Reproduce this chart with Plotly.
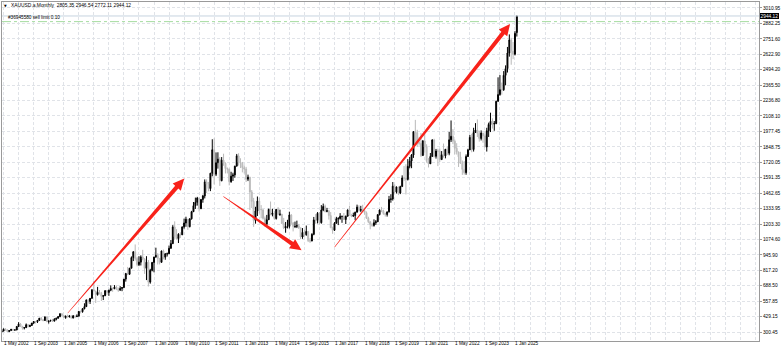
import plotly.graph_objects as go

# ---------------- data (monthly XAUUSD bars, Apr 2002 .. Feb 2025) ----------------
opens = [
    302.0, 308.4, 326.6, 318.5, 304.7, 312.8, 323.7, 316.9, 317.7,
    347.2, 367.5, 347.5, 334.9, 336.8, 361.4, 346.0, 354.8, 375.6, 388.0, 386.3, 397.6,
    416.3, 402.2, 396.8, 427.6, 387.5, 393.4, 395.8, 391.4, 407.3, 415.7, 428.9, 453.4,
    438.0, 422.2, 434.5, 427.9, 435.7, 417.2, 435.7, 429.1, 433.3, 473.3, 470.8, 495.7,
    513.0, 568.8, 556.0, 582.0, 654.5, 643.0, 613.5, 632.5, 623.5, 599.3, 603.8, 646.7,
    632.0, 650.5, 665.3, 661.8, 677.0, 659.1, 650.5, 665.5, 672.0, 743.0, 789.5, 783.5,
    834.0, 923.3, 971.5, 916.0, 864.0, 885.0, 928.3, 912.5, 833.0, 884.5, 718.0, 816.2,
    882.1, 927.3, 942.5, 916.5, 883.3, 978.8, 926.4, 954.5, 955.3, 1000.3, 1040.0, 1179.3,
    1097.0, 1081.7, 1118.3, 1113.3, 1180.2, 1212.5, 1244.0, 1181.7, 1247.3, 1307.0, 1357.3, 1385.0,
    1421.0, 1332.1, 1409.3, 1439.0, 1556.0, 1536.5, 1500.4, 1628.6, 1825.0, 1620.0, 1716.8, 1746.4,
    1566.8, 1737.8, 1711.3, 1668.0, 1663.4, 1558.0, 1604.2, 1614.8, 1687.9, 1773.9, 1719.1, 1713.2,
    1675.6, 1663.5, 1578.7, 1595.7, 1472.1, 1393.1, 1234.6, 1313.1, 1395.8, 1327.0, 1323.8, 1250.7,
    1201.6, 1239.8, 1326.6, 1283.8, 1295.6, 1250.0, 1326.4, 1282.3, 1286.4, 1208.3, 1171.7, 1182.9,
    1184.1, 1279.6, 1212.9, 1183.1, 1184.0, 1190.4, 1172.2, 1095.3, 1133.4, 1114.5, 1142.2, 1065.3,
    1061.1, 1117.3, 1238.3, 1234.8, 1293.4, 1214.9, 1320.6, 1350.9, 1308.7, 1315.6, 1274.4, 1172.3,
    1151.8, 1210.3, 1248.8, 1249.1, 1268.4, 1268.6, 1241.6, 1269.1, 1321.4, 1279.8, 1270.6, 1274.8,
    1302.5, 1345.1, 1318.0, 1324.6, 1315.2, 1298.8, 1252.6, 1223.7, 1201.4, 1192.2, 1214.7, 1222.4,
    1282.5, 1321.2, 1313.3, 1292.3, 1283.7, 1305.6, 1409.6, 1413.6, 1520.3, 1472.5, 1513.3, 1463.9,
    1517.1, 1589.2, 1585.7, 1577.2, 1686.3, 1730.3, 1780.9, 1975.9, 1968.1, 1886.9, 1879.0, 1776.5,
    1898.4, 1847.7, 1734.0, 1707.7, 1769.1, 1906.9, 1770.1, 1814.2, 1813.6, 1742.8, 1783.4, 1774.5,
    1829.2, 1796.3, 1908.6, 1937.4, 1896.9, 1837.3, 1807.3, 1765.9, 1711.0, 1660.6, 1633.6, 1768.5,
    1824.0, 1928.4, 1826.9, 1969.3, 1990.0, 1962.7, 1919.4, 1965.1, 1940.2, 1848.6, 1983.9, 2036.4,
    2062.6, 2039.5, 2044.2, 2229.9, 2286.3, 2327.3, 2326.8, 2447.6, 2503.4, 2634.6, 2743.9, 2650.0,
    2624.3, 2805.35,
]
highs = [
    312, 328, 331, 322, 315, 326, 324, 323, 349,
    383, 375, 352, 341, 372, 365, 362, 376, 392, 391, 398, 417,
    427, 410, 428, 429, 395, 404, 410, 416, 420, 434, 456, 456,
    428, 437, 446, 438, 436, 443, 432, 448, 474, 480, 500, 541,
    572, 574, 584, 655, 730, 645, 678, 652, 636, 610, 649, 643,
    654, 691, 672, 693, 690, 672, 684, 676, 744, 795, 845, 837,
    933, 976, 1033, 929, 935, 942, 988, 916, 935, 903, 829, 887,
    930, 1006, 960, 917, 981, 990, 960, 965, 1024, 1070, 1195, 1226,
    1161, 1127, 1135, 1180, 1249, 1265, 1213, 1252, 1314, 1388, 1425, 1431,
    1424, 1411, 1448, 1577, 1578, 1556, 1632, 1913, 1921, 1803, 1804, 1764,
    1764, 1792, 1720, 1677, 1667, 1641, 1633, 1691, 1790, 1796, 1754, 1723,
    1694, 1682, 1617, 1598, 1488, 1423, 1348, 1434, 1425, 1362, 1322, 1267,
    1280, 1332, 1392, 1331, 1315, 1326, 1345, 1324, 1287, 1255, 1221, 1239,
    1307, 1287, 1220, 1224, 1232, 1205, 1171, 1170, 1156, 1191, 1142, 1088,
    1127, 1263, 1287, 1304, 1304, 1362, 1375, 1366, 1339, 1318, 1304, 1182,
    1220, 1264, 1261, 1295, 1270, 1296, 1274, 1326, 1357, 1289, 1299, 1307,
    1366, 1361, 1356, 1365, 1326, 1309, 1265, 1215, 1214, 1243, 1237, 1284,
    1326, 1347, 1324, 1298, 1306, 1439, 1453, 1555, 1535, 1518, 1516, 1524,
    1611, 1689, 1704, 1747, 1765, 1789, 1981, 2075, 1992, 1933, 1965, 1906,
    1959, 1871, 1755, 1798, 1913, 1917, 1832, 1834, 1834, 1814, 1877, 1831,
    1853, 1974, 2070, 1998, 1910, 1880, 1784, 1808, 1735, 1730, 1786, 1833,
    1949, 1959, 2009, 2048, 2079, 1984, 1987, 1966, 1953, 2009, 2052, 2135,
    2088, 2065, 2236, 2431, 2450, 2387, 2483, 2531, 2685, 2790, 2761, 2726,
    2817, 2946.54,
]
lows = [
    300, 306, 314, 301, 300, 312, 310, 313, 316,
    344, 344, 320, 322, 336, 340, 342, 353, 368, 372, 376, 396,
    399, 390, 393, 383, 371, 389, 387, 391, 398, 413, 425, 431,
    418, 411, 424, 422, 414, 415, 417, 429, 432, 456, 462, 490,
    525, 539, 535, 580, 642, 543, 605, 614, 560, 568, 603, 612,
    603, 642, 637, 662, 651, 636, 647, 642, 671, 722, 776, 779,
    834, 894, 898, 850, 852, 857, 900, 787, 735, 681, 705, 808,
    800, 922, 865, 866, 882, 908, 905, 932, 954, 1002, 1036, 1075,
    1074, 1045, 1087, 1115, 1165, 1181, 1155, 1176, 1241, 1316, 1330, 1358,
    1308, 1329, 1382, 1418, 1462, 1478, 1479, 1603, 1535, 1605, 1667, 1523,
    1561, 1691, 1627, 1627, 1527, 1549, 1564, 1591, 1686, 1693, 1672, 1636,
    1626, 1555, 1563, 1321, 1338, 1180, 1207, 1271, 1292, 1252, 1241, 1182,
    1202, 1238, 1277, 1268, 1240, 1241, 1281, 1272, 1207, 1161, 1131, 1167,
    1167, 1197, 1142, 1170, 1170, 1162, 1077, 1080, 1098, 1106, 1053, 1046,
    1061, 1110, 1206, 1209, 1200, 1207, 1311, 1301, 1302, 1241, 1171, 1122,
    1146, 1208, 1195, 1240, 1214, 1237, 1204, 1267, 1275, 1261, 1263, 1236,
    1302, 1307, 1303, 1310, 1282, 1246, 1211, 1160, 1180, 1182, 1196, 1221,
    1276, 1303, 1281, 1266, 1266, 1300, 1382, 1400, 1459, 1459, 1446, 1454,
    1517, 1563, 1451, 1568, 1670, 1671, 1757, 1863, 1849, 1860, 1765, 1776,
    1802, 1717, 1677, 1720, 1766, 1761, 1751, 1688, 1722, 1746, 1759, 1753,
    1781, 1779, 1890, 1872, 1787, 1785, 1681, 1709, 1615, 1617, 1616, 1765,
    1823, 1804, 1810, 1969, 1932, 1893, 1903, 1884, 1846, 1810, 1932, 1973,
    2002, 1984, 2039, 2229, 2277, 2286, 2318, 2364, 2471, 2604, 2536, 2583,
    2614, 2772.11,
]
closes = [
    308.4, 326.6, 318.5, 304.7, 312.8, 323.7, 316.9, 317.7, 347.2,
    367.5, 347.5, 334.9, 336.8, 361.4, 346.0, 354.8, 375.6, 388.0, 386.3, 397.6, 416.3,
    402.2, 396.8, 427.6, 387.5, 393.4, 395.8, 391.4, 407.3, 415.7, 428.9, 453.4, 438.0,
    422.2, 434.5, 427.9, 435.7, 417.2, 435.7, 429.1, 433.3, 473.3, 470.8, 495.7, 513.0,
    568.8, 556.0, 582.0, 654.5, 643.0, 613.5, 632.5, 623.5, 599.3, 603.8, 646.7, 632.0,
    650.5, 665.3, 661.8, 677.0, 659.1, 650.5, 665.5, 672.0, 743.0, 789.5, 783.5, 834.0,
    923.3, 971.5, 916.0, 864.0, 885.0, 928.3, 912.5, 833.0, 884.5, 718.0, 816.2, 882.1,
    927.3, 942.5, 916.5, 883.3, 978.8, 926.4, 954.5, 955.3, 1000.3, 1040.0, 1179.3, 1097.0,
    1081.7, 1118.3, 1113.3, 1180.2, 1212.5, 1244.0, 1181.7, 1247.3, 1307.0, 1357.3, 1385.0, 1421.0,
    1332.1, 1409.3, 1439.0, 1556.0, 1536.5, 1500.4, 1628.6, 1825.0, 1620.0, 1716.8, 1746.4, 1566.8,
    1737.8, 1711.3, 1668.0, 1663.4, 1558.0, 1604.2, 1614.8, 1687.9, 1773.9, 1719.1, 1713.2, 1675.6,
    1663.5, 1578.7, 1595.7, 1472.1, 1393.1, 1234.6, 1313.1, 1395.8, 1327.0, 1323.8, 1250.7, 1201.6,
    1239.8, 1326.6, 1283.8, 1295.6, 1250.0, 1326.4, 1282.3, 1286.4, 1208.3, 1171.7, 1182.9, 1184.1,
    1279.6, 1212.9, 1183.1, 1184.0, 1190.4, 1172.2, 1095.3, 1133.4, 1114.5, 1142.2, 1065.3, 1061.1,
    1117.3, 1238.3, 1234.8, 1293.4, 1214.9, 1320.6, 1350.9, 1308.7, 1315.6, 1274.4, 1172.3, 1151.8,
    1210.3, 1248.8, 1249.1, 1268.4, 1268.6, 1241.6, 1269.1, 1321.4, 1279.8, 1270.6, 1274.8, 1302.5,
    1345.1, 1318.0, 1324.6, 1315.2, 1298.8, 1252.6, 1223.7, 1201.4, 1192.2, 1214.7, 1222.4, 1282.5,
    1321.2, 1313.3, 1292.3, 1283.7, 1305.6, 1409.6, 1413.6, 1520.3, 1472.5, 1513.3, 1463.9, 1517.1,
    1589.2, 1585.7, 1577.2, 1686.3, 1730.3, 1780.9, 1975.9, 1968.1, 1886.9, 1879.0, 1776.5, 1898.4,
    1847.7, 1734.0, 1707.7, 1769.1, 1906.9, 1770.1, 1814.2, 1813.6, 1742.8, 1783.4, 1774.5, 1829.2,
    1796.3, 1908.6, 1937.4, 1896.9, 1837.3, 1807.3, 1765.9, 1711.0, 1660.6, 1633.6, 1768.5, 1824.0,
    1928.4, 1826.9, 1969.3, 1990.0, 1962.7, 1919.4, 1965.1, 1940.2, 1848.6, 1983.9, 2036.4, 2062.6,
    2039.5, 2044.2, 2229.9, 2286.3, 2327.3, 2326.8, 2447.6, 2503.4, 2634.6, 2743.9, 2650.0, 2624.3,
    2798.4, 2944.12,
]
# bar index 0 = May 2002; first bar is Apr 2002
first_bar_index = -1

x_tick_labels = [
    "1 May 2002", "1 Sep 2003", "1 Jan 2005", "1 May 2006", "1 Sep 2007", "1 Jan 2009",
    "1 May 2010", "1 Sep 2011", "1 Jan 2013", "1 May 2014", "1 Sep 2015", "1 Jan 2017",
    "1 May 2018", "1 Sep 2019", "1 Jan 2021", "1 May 2022", "1 Sep 2023", "1 Jan 2025",
]
months_per_label = 16
months_per_grid = 8

y_tick_labels = [
    "300.45", "429.15", "557.85", "688.50", "817.20", "945.90", "1074.60", "1203.30",
    "1333.95", "1462.65", "1591.35", "1720.05", "1848.75", "1977.45", "2108.10",
    "2236.80", "2365.50", "2494.20", "2622.90", "2751.60", "2882.25", "3010.95",
]

title_text = "XAUUSD.a,Monthly  2805.35 2946.54 2772.11 2944.12"
order_text = "#36945580 sell limit 0.10"
order_price = 2897.0
last_price = closes[-1]

# arrows drawn on the chart: (tail bar index, tail price, tip bar index, tip price)
arrow_tails_x = [34.1, 116.9, 176.1]
arrow_tails_y = [459.0, 1434.7, 1011.9]
arrow_tips_x = [96.1, 158.5, 269.4]
arrow_tips_y = [1584.8, 985.0, 2877.5]

# ---------------- layout geometry ----------------
W, H = 782, 348
ML, MR, MT, MB = 1, 21, 1, 7
PW, PH = W - ML - MR, H - MT - MB
x_range = [-0.85, 401.8]
y_range = [225.4, 3061.0]

x_idx = list(range(first_bar_index, first_bar_index + len(closes)))
y_vals = [float(t) for t in y_tick_labels]

FONT = "Liberation Sans"
GRID = "#e0e3e8"

fig = go.Figure()
fig.add_trace(go.Candlestick(
    x=x_idx, open=opens, high=highs, low=lows, close=closes,
    increasing=dict(line=dict(color="#000000", width=1), fillcolor="#000000"),
    decreasing=dict(line=dict(color="#b9b9b9", width=1), fillcolor="#cfcfcf"),
    whiskerwidth=0, hoverinfo="skip", showlegend=False,
))


def to_px(xv, yv):
    px = ML + (xv - x_range[0]) / (x_range[1] - x_range[0]) * PW
    py = MT + (y_range[1] - yv) / (y_range[1] - y_range[0]) * PH
    return px, py


def to_paper(px, py):
    return (px - ML) / PW, 1 - (py - MT) / PH


shapes = []
# bid line and pending order line
shapes.append(dict(type="line", xref="paper", x0=0, x1=1, yref="y", y0=last_price, y1=last_price,
                   line=dict(color="#c6d3df", width=1)))
shapes.append(dict(type="line", xref="paper", x0=0, x1=1, yref="y", y0=order_price, y1=order_price,
                   line=dict(color="#a6dca0", width=1, dash="dashdot")))

# tapered red arrows
for tx, ty, hx, hy in zip(arrow_tails_x, arrow_tails_y, arrow_tips_x, arrow_tips_y):
    x0, y0 = to_px(tx, ty)
    x1, y1 = to_px(hx, hy)
    dx, dy = x1 - x0, y1 - y0
    L = (dx * dx + dy * dy) ** 0.5
    ux, uy = dx / L, dy / L
    nx, ny = -uy, ux
    head_len, head_hw, body_hw, tail_hw = 11.5, 5.4, 2.1, 0.25
    bx, by = x1 - ux * head_len, y1 - uy * head_len
    pts = [
        (x0 + nx * tail_hw, y0 + ny * tail_hw),
        (bx + nx * body_hw, by + ny * body_hw),
        (bx + nx * head_hw, by + ny * head_hw),
        (x1, y1),
        (bx - nx * head_hw, by - ny * head_hw),
        (bx - nx * body_hw, by - ny * body_hw),
        (x0 - nx * tail_hw, y0 - ny * tail_hw),
    ]
    pp = [to_paper(a, b) for a, b in pts]
    path = "M " + " L ".join(f"{a:.5f},{b:.5f}" for a, b in pp) + " Z"
    shapes.append(dict(type="path", xref="paper", yref="paper", path=path,
                       fillcolor="#f8221a", line=dict(width=0)))

annotations = []
# x-axis labels, left-aligned at their grid line
for i, lab in enumerate(x_tick_labels):
    annotations.append(dict(x=i * months_per_label, xref="x", y=0, yref="paper",
                            text=lab, showarrow=False, xanchor="left", yanchor="top",
                            xshift=0.5, yshift=-0.3, borderpad=0, borderwidth=0,
                            font=dict(family=FONT, size=4.7, color="#000000")))
# title and order label
tx_, ty_ = to_paper(9, 5)
annotations.append(dict(x=tx_, y=ty_, xref="paper", yref="paper", text=title_text,
                        showarrow=False, xanchor="left", yanchor="middle", borderpad=0,
                        font=dict(family=FONT, size=4.9, color="#000000")))
tx_, ty_ = to_paper(2.2, 5)
annotations.append(dict(x=tx_, y=ty_, xref="paper", yref="paper", text="▼",
                        showarrow=False, xanchor="left", yanchor="middle", borderpad=0,
                        font=dict(family="DejaVu Sans", size=3.5, color="#000000")))
tx_, ty_ = to_paper(6.5, 17)
annotations.append(dict(x=tx_, y=ty_, xref="paper", yref="paper", text=order_text,
                        showarrow=False, xanchor="left", yanchor="middle", borderpad=0,
                        font=dict(family=FONT, size=4.7, color="#000000")))
# current price box
annotations.append(dict(x=1, xref="paper", y=last_price, yref="y", text=f"{last_price:.2f}",
                        showarrow=False, xanchor="left", yanchor="middle", xshift=0.5,
                        bgcolor="#000000", borderpad=0.6, borderwidth=0,
                        font=dict(family=FONT, size=4.8, color="#ffffff")))

grid_vals = list(range(0, int(x_range[1]) + 1, months_per_grid))

fig.update_layout(
    width=W, height=H,
    margin=dict(l=ML, r=MR, t=MT, b=MB, pad=0),
    paper_bgcolor="#ffffff", plot_bgcolor="#ffffff",
    showlegend=False, hovermode=False,
    shapes=shapes, annotations=annotations,
    xaxis=dict(range=x_range, tickvals=grid_vals, showticklabels=False, ticks="",
               showgrid=True, gridcolor=GRID, gridwidth=1, griddash="3px,2px",
               zeroline=False, showline=True, mirror=True, linecolor="#9a9a9a", linewidth=1,
               rangeslider=dict(visible=False), fixedrange=True),
    yaxis=dict(range=y_range, side="right", tickvals=y_vals, ticktext=y_tick_labels,
               ticks="outside", ticklen=2, tickcolor="#9a9a9a", tickwidth=1,
               tickfont=dict(family=FONT, size=4.8, color="#000000"),
               showgrid=True, gridcolor=GRID, gridwidth=1, griddash="3px,2px",
               zeroline=False, showline=True, mirror=True, linecolor="#9a9a9a", linewidth=1,
               fixedrange=True),
)

fig.write_html("out.html")
